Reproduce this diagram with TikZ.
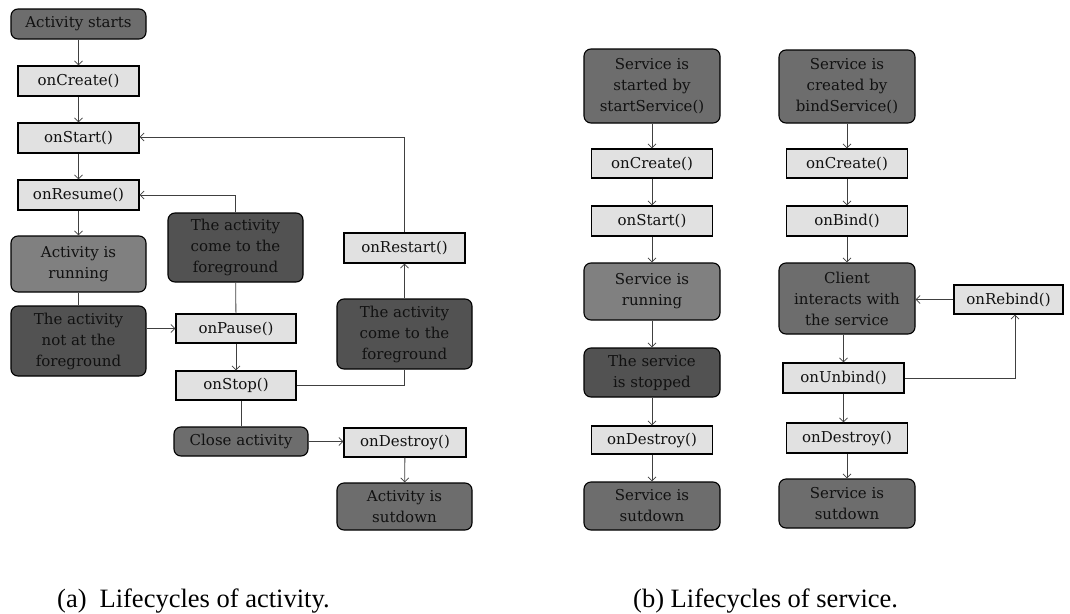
\documentclass[tikz,border=0pt]{standalone}
\usepackage{fontspec}
\setmainfont{DejaVu Serif}
\newfontfamily\capfont{Liberation Serif}
\usetikzlibrary{arrows.meta}
\definecolor{lightbox}{HTML}{E1E1E1}
\definecolor{darkA}{HTML}{6D6D6D}
\definecolor{darkB}{HTML}{525252}
\definecolor{midbox}{HTML}{808080}
\definecolor{linec}{HTML}{404040}
\definecolor{txt}{HTML}{111111}
\tikzset{
  base/.style={draw=black, line width=1.1pt, inner sep=0pt, align=center, text=txt,
    font=\fontsize{15}{21}\selectfont},
  lbox/.style={base, rectangle, fill=lightbox},
  rbox/.style={base, rectangle, rounded corners=7pt},
  dA/.style={rbox, fill=darkA},
  dB/.style={rbox, fill=darkB},
  mB/.style={rbox, fill=midbox},
  ln/.style={draw=linec, line width=0.8pt},
  arr/.style={ln, -{Straight Barb[length=4pt,width=8pt]}},
  captxt/.style={anchor=base west, inner sep=0pt, font=\capfont\fontsize{26.5}{30}\selectfont}
}
\begin{document}
\begin{tikzpicture}[x=1pt,y=-1pt]
\path[use as bounding box] (0,0) rectangle (1070,613);

% ---------- (a) activity ----------
\node[dA, minimum width=135pt, minimum height=30pt] (astart) at (78.5,24) {Activity starts};
\node[lbox, minimum width=121pt, minimum height=30pt] (acreate) at (78.5,81) {onCreate()};
\node[lbox, minimum width=121pt, minimum height=30pt] (astartm) at (78.5,138) {onStart()};
\node[lbox, minimum width=121pt, minimum height=30pt] (aresume) at (78.5,195) {onResume()};
\node[mB, minimum width=135pt, minimum height=56pt] (arun) at (78.5,264) {Activity is\\running};
\node[dB, minimum width=135pt, minimum height=70pt] (anot) at (78.5,341) {The activity\\not at the\\foreground};
\node[dB, minimum width=135pt, minimum height=69pt] (afg1) at (235.5,247.5) {The activity\\come to the\\foreground};
\node[lbox, minimum width=120pt, minimum height=29pt] (apause) at (236,328.5) {onPause()};
\node[lbox, minimum width=120pt, minimum height=29pt] (astop) at (236,385.5) {onStop()};
\node[dA, minimum width=134pt, minimum height=29pt] (aclose) at (241,441.5) {Close activity};
\node[lbox, minimum width=122pt, minimum height=29pt] (adestroy) at (405,442.5) {onDestroy()};
\node[dA, minimum width=135pt, minimum height=47pt] (asut) at (404.5,506.5) {Activity is\\sutdown};
\node[dB, minimum width=135pt, minimum height=70pt] (afg2) at (404.5,334) {The activity\\come to the\\foreground};
\node[lbox, minimum width=121pt, minimum height=30pt] (arestart) at (404.5,248) {onRestart()};

\draw[arr] (astart) -- (acreate);
\draw[arr] (acreate) -- (astartm);
\draw[arr] (astartm) -- (aresume);
\draw[arr] (aresume) -- (arun);
\draw[ln] (arun) -- (anot);
\draw[arr] (anot.east |- apause.west) -- (apause.west);
\draw[ln] (afg1) -- (apause);
\draw[arr] (afg1.north) |- (aresume.east);
\draw[arr] (apause) -- (astop);
\draw[ln] (astop.east) -| (afg2.south);
\draw[arr] (afg2) -- (arestart);
\coordinate (rtop) at (404.5,137);
\draw[arr] (arestart.north) -- (rtop) -- (rtop -| astartm.east);
\draw[ln] (astop.south -| aclose.north) -- (aclose.north);
\draw[arr] (aclose.east) -- (aclose.east -| adestroy.west);
\draw[arr] (adestroy) -- (asut);

% ---------- (b) service: startService ----------
\node[dA, minimum width=136pt, minimum height=74pt] (sstart) at (652,86) {Service is\\started by\\startService()};
\node[lbox, minimum width=121pt, minimum height=29pt] (screate) at (652,163.5) {onCreate()};
\node[lbox, minimum width=121pt, minimum height=30pt] (sstartm) at (652,221) {onStart()};
\node[mB, minimum width=136pt, minimum height=57pt] (srun) at (652,291.5) {Service is\\running};
\node[dB, minimum width=136pt, minimum height=49pt] (sstop) at (652,372.5) {The service\\is stopped};
\node[lbox, minimum width=121pt, minimum height=28pt] (sdestroy) at (652,440) {onDestroy()};
\node[dA, minimum width=136pt, minimum height=48pt] (ssut) at (652,506) {Service is\\sutdown};

\draw[arr] (sstart) -- (screate);
\draw[arr] (screate) -- (sstartm);
\draw[arr] (sstartm) -- (srun);
\draw[arr] (srun) -- (sstop);
\draw[arr] (sstop) -- (sdestroy);
\draw[arr] (sdestroy) -- (ssut);

% ---------- (b) service: bindService ----------
\node[dA, minimum width=136pt, minimum height=73pt] (bstart) at (847,86.5) {Service is\\created by\\bindService()};
\node[lbox, minimum width=121pt, minimum height=29pt] (bcreate) at (847,163.5) {onCreate()};
\node[lbox, minimum width=121pt, minimum height=30pt] (bbind) at (847,221) {onBind()};
\node[dA, minimum width=136pt, minimum height=71pt] (bclient) at (847,298.5) {Client\\interacts with\\the service};
\node[lbox, minimum width=109pt, minimum height=29pt] (brebind) at (1008.5,299.5) {onRebind()};
\node[lbox, minimum width=121pt, minimum height=30pt] (bunbind) at (843.5,378) {onUnbind()};
\node[lbox, minimum width=121pt, minimum height=30pt] (bdestroy) at (847,438) {onDestroy()};
\node[dA, minimum width=136pt, minimum height=49pt] (bsut) at (847,503.5) {Service is\\sutdown};

\draw[arr] (bstart) -- (bcreate);
\draw[arr] (bcreate) -- (bbind);
\draw[arr] (bbind) -- (bclient);
\draw[arr] (bclient.south -| bunbind.north) -- (bunbind.north);
\draw[arr] (bunbind.south) -- (bunbind.south |- bdestroy.north);
\draw[arr] (bdestroy) -- (bsut);
\draw[arr] (brebind.west) -- (brebind.west -| bclient.east);
\coordinate (rb) at ([xshift=6.5pt]brebind.south);
\draw[arr] (bunbind.east) -| (rb);

% ---------- captions ----------
\node[captxt] (capa) at (57,607) {(a)\hspace{13pt}Lifecycles of activity.};
\node[captxt] (capb) at (633,607) {(b) Lifecycles of service.};
\end{tikzpicture}
\end{document}
